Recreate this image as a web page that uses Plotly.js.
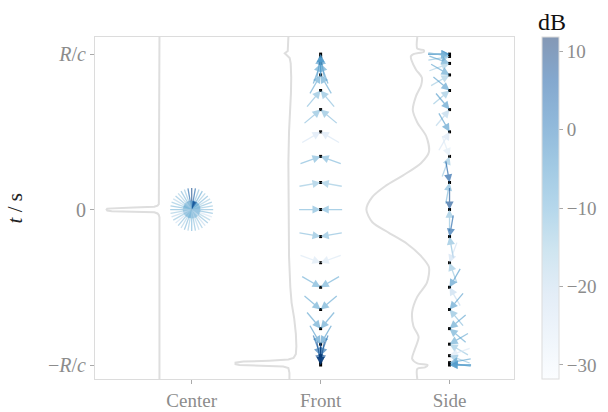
<!DOCTYPE html>
<html>
<head>
<meta charset="utf-8">
<script src="https://cdn.plot.ly/plotly-3.0.1.min.js"></script>
<style>html,body{margin:0;padding:0;background:#fff;}#chart{width:608px;height:412px;}</style>
</head>
<body>
<div id="chart"></div>
<script>
// ---------- data ----------
const categories = ['Center', 'Front', 'Side'];
const yTickVals = [1, 0, -1];
const yTickText = ['<i>R</i>/<i>c</i>', '0', '\u2212<i>R</i>/<i>c</i>'];
const cbTickVals = [10, 0, -10, -20, -30];
const cbTickText = ['10', '0', '\u221210', '\u221220', '\u221230'];
const dbMin = -31.8, dbMax = 11.8;

// sample times (units of R/c)
const times = [1, 0.985, 0.94, 0.866, 0.766, 0.643, 0.5, 0.342, 0.174, 0,
  -0.174, -0.342, -0.5, -0.643, -0.766, -0.866, -0.94, -0.985, -1];

// Front column: two arrows per time (propagation angle, deg)
const frontLeftAngles  = [90, 80, 70, 60, 50, 40, 30, 20, 10, 0, -10, -20, -30, -40, -50, -60, -70, -80, -90];
const frontRightAngles = [90, 100, 110, 120, 130, 140, 150, 160, 170, 180, 190, 200, 210, 220, 230, 240, 250, 260, 270];
const frontDb = [-6, -6, -7, -8, -12, -12, -24, -11, -14, -11, -12, -25, -9, -8, -7, -5, 2, 8, 10];

// Side column
const sideDownAngles = [0, -10, -20, -30, -40, -50, -60, -70, -80, -90, -100, -110, -120, -130, -140, -150, -160, -170, -180];
const sideUpAngles   = [0, 10, 20, 30, 40, 50, 60, 70, 80, 90, 100, 110, 120, 130, 140, 150, 160, 170, 180];
const sideDownDb = [-4, -13, -7, -7, -6, -5, -5, -26, 6, 8, 5, -22, -5, -6, -7, -8, -25, -7, -6];
const sideUpDb   = [-4, -13, -16, -15, -14, -18, -24, -14, -11, -13, -12, -14, -20, -12, -8, -14, -13, -9, -6];

// Center column: arrows from all directions (tail direction, deg)
const centerTailAngles = [0, 10, 20, 30, 40, 50, 60, 70, 80, 90, 100, 110, 120, 130, 140, 150, 160, 170,
  180, 190, 200, 210, 220, 230, 240, 250, 260, 270, 280, 290, 300, 310, 320, 330, 340, 350];
const centerDb = [-12, -14, -13, -16, -12, -15, -9, -13, 5, 9, 4, -14, -12, -16, -13, -18, -14, -12,
  -11, -15, -19, -14, -22, -13, -17, -12, -15, -11, -13, -18, -14, -20, -13, -16, -24, -12];

// gray waveforms: time and amplitude (leftward displacement, x units)
const centerWaveT   = [1.11, 0.05, 0.035, 0.025, 0.018, 0.014, 0.011, 0.006, 0, -0.006, -0.011, -0.014, -0.018, -0.025, -0.035, -0.05, -1.09];
const centerWaveAmp = [0, 0, 0.005, 0.015, 0.04, 0.2, 0.37, 0.405, 0.41, 0.405, 0.37, 0.2, 0.04, 0.015, 0.005, 0, 0];

const frontWaveT = [1.11, 1.04, 1.02, 1.005, 0.99, 0.975, 0.94, 0.85, 0.75, 0.65, 0.5, 0.3, 0.1, -0.1, -0.3, -0.5, -0.6, -0.7, -0.8, -0.88, -0.93, -0.955, -0.965, -0.972, -0.978, -0.985, -0.995, -1.0, -1.005, -1.01, -1.02, -1.05, -1.09];
const frontWaveAmp = [0, 0, 0.005, 0.028, 0.01, -0.01, -0.018, -0.022, -0.02, -0.012, -0.005, 0, 0, 0, -0.005, -0.015, -0.025, -0.045, -0.058, -0.062, -0.058, -0.04, 0.0, 0.15, 0.35, 0.41, 0.41, 0.38, 0.2, 0.04, 0.0, -0.008, -0.008];

const sideWaveT = [1.11, 1.035, 1.025, 1.015, 1.0, 0.985, 0.96, 0.9, 0.85, 0.8, 0.73, 0.64, 0.56, 0.47, 0.37, 0.3, 0.22, 0.15, 0.08, 0, -0.08, -0.15, -0.22, -0.3, -0.37, -0.47, -0.56, -0.66, -0.75, -0.82, -0.9, -0.96, -0.99, -1.0, -1.015, -1.025, -1.09];
const sideWaveAmp = [0, 0, -0.05, -0.05, 0.03, 0.05, 0.045, 0.01, -0.035, -0.03, 0.01, 0.035, 0.0, -0.07, -0.09, -0.03, 0.11, 0.25, 0.35, 0.395, 0.35, 0.22, 0.08, -0.03, -0.09, -0.075, 0.0, 0.04, 0.03, -0.01, 0.02, 0.04, 0.0, -0.08, -0.06, 0.0, 0];

// ---------- styling ----------
const FONT = 'Liberation Serif, Times New Roman, serif';
const GRAY_TXT = '#8c8c8c';
const FRAME = '#dcdcdc';
const ARROW_LEN = 23;
const ALPHA = 0.5;
const WAVE_OFFSET = 0.25;

const BLUES = [[0, [247, 251, 255]], [0.125, [222, 235, 247]], [0.25, [198, 219, 239]], [0.375, [158, 202, 225]],
  [0.5, [107, 174, 214]], [0.625, [66, 146, 198]], [0.75, [33, 113, 181]], [0.875, [8, 81, 156]], [1, [8, 48, 107]]];

function blues(f) {
  f = Math.max(0, Math.min(1, f));
  for (let i = 1; i < BLUES.length; i++) {
    if (f <= BLUES[i][0]) {
      const [f0, c0] = BLUES[i - 1], [f1, c1] = BLUES[i];
      const u = (f - f0) / (f1 - f0);
      return c0.map((v, k) => v + u * (c1[k] - v));
    }
  }
  return BLUES[BLUES.length - 1][1];
}
function rgbaFor(db) {
  const c = blues((db - dbMin) / (dbMax - dbMin));
  return `rgba(${Math.round(c[0])},${Math.round(c[1])},${Math.round(c[2])},${ALPHA + 0.1})`;
}
const barScale = BLUES.map(([f, c]) => [f, `rgb(${c.map(v => Math.round(ALPHA * v + (1 - ALPHA) * 255)).join(',')})`]);

const annotations = [];
function addArrow(x, y, propAngleDeg, db) {
  const a = propAngleDeg * Math.PI / 180;
  annotations.push({
    x: x, y: y, xref: 'x', yref: 'y',
    ax: -ARROW_LEN * Math.cos(a), ay: ARROW_LEN * Math.sin(a),
    axref: 'pixel', ayref: 'pixel',
    text: '', showarrow: true, arrowhead: 2, arrowsize: 1.25, arrowwidth: 1.3,
    arrowcolor: rgbaFor(db), standoff: 0
  });
}
centerTailAngles.forEach((ang, i) => addArrow(0, 0, ang + 180, centerDb[i]));
times.forEach((t, i) => {
  addArrow(1, t, frontLeftAngles[i], frontDb[i]);
  addArrow(1, t, frontRightAngles[i], frontDb[i]);
});
times.forEach((t, i) => {
  addArrow(2, t, sideDownAngles[i], sideDownDb[i]);
  addArrow(2, t, sideUpAngles[i], sideUpDb[i]);
});

annotations.push({
  xref: 'paper', yref: 'paper', x: -0.19, xanchor: 'center', y: 0.5, text: '<i>t</i> / s', textangle: -90,
  showarrow: false, font: {family: FONT, size: 21, color: '#222'}
});
annotations.push({
  xref: 'paper', yref: 'paper', x: 1.09, y: 1.045, text: 'dB', showarrow: false,
  xanchor: 'center', yanchor: 'middle', font: {family: FONT, size: 24, color: '#111'}
});

function wave(col, T, A, shape) {
  return {
    x: A.map(a => col - WAVE_OFFSET - a), y: T, mode: 'lines', type: 'scatter',
    line: {color: '#dedede', width: 2, shape: shape || 'linear', smoothing: 0.8}, hoverinfo: 'skip', showlegend: false
  };
}

const dotX = [0], dotY = [0];
times.forEach(t => { dotX.push(1); dotY.push(t); });
times.forEach(t => { dotX.push(2); dotY.push(t); });

const traces = [
  wave(0, centerWaveT, centerWaveAmp),
  wave(1, frontWaveT, frontWaveAmp),
  wave(2, sideWaveT, sideWaveAmp, 'spline'),
  {
    x: dotX, y: dotY, mode: 'markers', type: 'scatter', showlegend: false,
    marker: {color: '#000', size: 3, symbol: 'square'}
  },
  {
    x: [0], y: [0], mode: 'markers', type: 'scatter', showlegend: false, hoverinfo: 'skip',
    marker: {
      size: 0.1, opacity: 0, color: [dbMin], cmin: dbMin, cmax: dbMax, colorscale: barScale, showscale: true,
      colorbar: {
        x: 1.064, xanchor: 'left', y: 0.5, yanchor: 'middle', len: 1, lenmode: 'fraction',
        thickness: 17, thicknessmode: 'pixels', xpad: 0, ypad: 0,
        outlinewidth: 1, outlinecolor: FRAME,
        ticks: 'outside', ticklen: 4, tickwidth: 1, tickcolor: '#aaa',
        tickvals: cbTickVals, ticktext: cbTickText,
        tickfont: {family: FONT, size: 19, color: GRAY_TXT}
      }
    }
  }
];

const layout = {
  width: 608, height: 412,
  margin: {l: 95, r: 93, t: 37, b: 33},
  paper_bgcolor: '#fff', plot_bgcolor: '#fff',
  showlegend: false,
  font: {family: FONT, size: 19, color: GRAY_TXT},
  xaxis: {
    range: [-0.75, 2.5], tickvals: [0, 1, 2], ticktext: categories,
    showgrid: false, zeroline: false, showline: true, mirror: true, linecolor: FRAME, linewidth: 1,
    ticks: 'outside', ticklen: 4, tickcolor: '#aaa', tickfont: {family: FONT, size: 19, color: GRAY_TXT}
  },
  yaxis: {
    range: [-1.09, 1.11], tickvals: yTickVals, ticktext: yTickText,
    showgrid: false, zeroline: false, showline: true, mirror: true, linecolor: FRAME, linewidth: 1,
    ticks: 'outside', ticklen: 4, tickcolor: '#aaa', tickfont: {family: FONT, size: 20, color: GRAY_TXT}
  },
  annotations: annotations
};

Plotly.newPlot('chart', traces, layout, {displayModeBar: false, staticPlot: true});
</script>
</body>
</html>
